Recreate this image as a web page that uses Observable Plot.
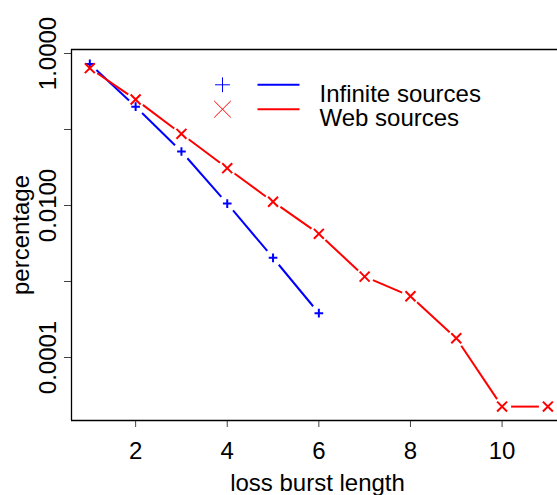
<!DOCTYPE html>
<html><head><meta charset="utf-8">
<script src="https://cdn.jsdelivr.net/npm/d3@7"></script>
<script src="https://cdn.jsdelivr.net/npm/@observablehq/plot@0.6"></script>
<style>body{margin:0;background:#fff}</style>
</head><body><div id="chart"></div>
<script>
// ---- data ----
const burstLength = [1, 2, 3, 4, 5, 6, 7, 8, 9, 10, 11];
const infiniteValues = [0.73, 0.20, 0.0514, 0.0106, 0.00205, 0.000383];
const webValues = [0.641, 0.248, 0.0877, 0.031, 0.0112, 0.00424, 0.00116, 0.00064, 0.000179, 0.0000226, 0.0000226];
const seriesNames = ["Infinite sources", "Web sources"];
const xTicks = [2, 4, 6, 8, 10];
const yTicks = [1, 0.1, 0.01, 0.001, 0.0001];
const yTickLabels = ["1.0000", "", "0.0100", "", "0.0001"];
const xLabel = "loss burst length";
const yLabel = "percentage";

// ---- layout / style ----
const W = 557, H = 495, mL = 71, mR = 0, mT = 49, mB = 75;
const xDomain = [0.6, 11.21];
const yDomain = [1.483e-5, 1.129];
const colors = ["#0000ff", "#ff0000"];
const symbols = ["plus", "times"];
const markerR = [2.9, 4.6];
const legendR = [4.85, 7.6];
const gap = 9;

const series = [infiniteValues, webValues].map((vals, i) => ({
  name: seriesNames[i],
  points: vals.map((v, j) => ({x: burstLength[j], y: v}))
}));

const xs = Plot.scale({x: {domain: xDomain, range: [mL, W - mR]}});
const ys = Plot.scale({y: {type: "log", domain: yDomain, range: [H - mB, mT]}});

function gappedSegments(points) {
  const segs = [];
  for (let i = 0; i < points.length - 1; i++) {
    const a = points[i], b = points[i + 1];
    const ax = xs.apply(a.x), ay = ys.apply(a.y), bx = xs.apply(b.x), by = ys.apply(b.y);
    const len = Math.hypot(bx - ax, by - ay);
    if (len <= 2 * gap) continue;
    const ux = (bx - ax) / len, uy = (by - ay) / len;
    segs.push({
      x1: xs.invert(ax + ux * gap), y1: ys.invert(ay + uy * gap),
      x2: xs.invert(bx - ux * gap), y2: ys.invert(by - uy * gap)
    });
  }
  return segs;
}

const hLine = {draw(ctx) { ctx.moveTo(-21, 0); ctx.lineTo(21, 0); }};

const marks = [];
series.forEach((s, i) => {
  marks.push(Plot.link(gappedSegments(s.points), {x1: "x1", y1: "y1", x2: "x2", y2: "y2", stroke: colors[i], strokeWidth: 2}));
});
series.forEach((s, i) => {
  marks.push(Plot.dot(s.points, {x: "x", y: "y", symbol: symbols[i], r: markerR[i], stroke: colors[i], strokeWidth: 2}));
});
// legend
seriesNames.forEach((name, i) => {
  const dy = 35.3 + i * 24.4;
  marks.push(Plot.dot([name], {frameAnchor: "top-left", dx: 151, dy, symbol: symbols[i], r: legendR[i], stroke: colors[i], strokeWidth: 1}));
  marks.push(Plot.dot([name], {frameAnchor: "top-left", dx: 207, dy, symbol: hLine, r: 1, stroke: colors[i], strokeWidth: 2}));
  marks.push(Plot.text([name], {frameAnchor: "top-left", dx: 248, dy, text: d => d, textAnchor: "start", fill: "black"}));
});

const chart = Plot.plot({
  width: W, height: H,
  marginLeft: mL, marginRight: mR, marginTop: mT, marginBottom: mB,
  style: {fontFamily: "'Liberation Sans', Arial, Helvetica, sans-serif", fontSize: "24px", background: "#fff", color: "black"},
  x: {domain: xDomain, axis: null},
  y: {type: "log", domain: yDomain, axis: null},
  marks: [
    Plot.axisX(xTicks, {tickSize: 7, tickPadding: 14.7, fontSize: 24, label: null, stroke: "#444", fill: "black"}),
    Plot.axisY(yTicks, {tickSize: 7, tickFormat: () => "", label: null, stroke: "#444"}),
    Plot.text(yTicks.map((t, i) => ({t, label: yTickLabels[i]})), {y: "t", text: "label", frameAnchor: "left", dx: -16, rotate: -90, textAnchor: "middle", lineAnchor: "bottom", fill: "black"}),
    Plot.text([yLabel], {frameAnchor: "left", dx: -43, rotate: -90, textAnchor: "middle", lineAnchor: "bottom", text: d => d, fill: "black"}),
    Plot.text([xLabel], {frameAnchor: "bottom", dx: 3, dy: 70.5, textAnchor: "middle", lineAnchor: "bottom", text: d => d, fill: "black"}),
    Plot.ruleX([xDomain[0]], {stroke: "black", strokeWidth: 1.3}),
    Plot.ruleY([yDomain[0], yDomain[1]], {stroke: "black", strokeWidth: 1.3}),
    ...marks
  ]
});
document.getElementById("chart").appendChild(chart);
</script>
</body></html>
